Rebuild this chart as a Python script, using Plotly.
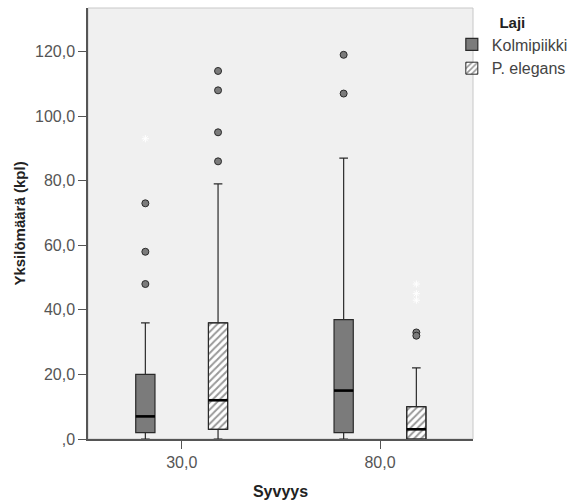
import numpy as np
import plotly.graph_objects as go

# ---------------- data ----------------
depths = ["30,0", "80,0"]
series_names = ["Kolmipiikki", "P. elegans"]

kolmi_q1 = [2, 2]
kolmi_median = [7, 15]
kolmi_q3 = [20, 37]
kolmi_low = [0, 0]
kolmi_high = [36, 87]
kolmi_outliers = [[73, 58, 48], [119, 107]]
kolmi_extremes = [[93], []]

eleg_q1 = [3, 0]
eleg_median = [12, 3]
eleg_q3 = [36, 10]
eleg_low = [0, 0]
eleg_high = [79, 22]
eleg_outliers = [[114, 108, 95, 86], [33, 32]]
eleg_extremes = [[], [48, 45, 43]]

y_ticks = [0, 20, 40, 60, 80, 100, 120]
y_tick_labels = [",0", "20,0", "40,0", "60,0", "80,0", "100,0", "120,0"]

# ---------------- style ----------------
FONT = "Liberation Sans, Arial, sans-serif"
GRAY = "#7b7b7b"
DARK = "#2a2a2a"
BOXW = 0.097
OFF = 0.1833

idx = np.arange(len(depths))
pos_k = idx - OFF
pos_e = idx + OFF

fig = go.Figure()

# hatched fill for P. elegans boxes (bar with pattern underneath the box outline)
fig.add_trace(go.Bar(
    x=pos_e, y=np.array(eleg_q3) - np.array(eleg_q1), base=eleg_q1, width=BOXW,
    name=series_names[1], legendrank=2,
    marker=dict(color="white",
                pattern=dict(shape="/", fgcolor="#333333", bgcolor="white", size=5, solidity=0.4),
                line=dict(width=1, color=DARK)),
    hoverinfo="skip",
))

# Kolmipiikki boxes
fig.add_trace(go.Box(
    x=pos_k, q1=kolmi_q1, median=kolmi_median, q3=kolmi_q3,
    lowerfence=kolmi_low, upperfence=kolmi_high,
    width=BOXW, whiskerwidth=0.45, boxpoints=False,
    fillcolor=GRAY, line=dict(color=DARK, width=1.2),
    name=series_names[0], legendrank=1,
))

# P. elegans box outlines
fig.add_trace(go.Box(
    x=pos_e, q1=eleg_q1, median=eleg_median, q3=eleg_q3,
    lowerfence=eleg_low, upperfence=eleg_high,
    width=BOXW, whiskerwidth=0.45, boxpoints=False,
    fillcolor="rgba(0,0,0,0)", line=dict(color=DARK, width=1.2),
    name=series_names[1], showlegend=False,
))

# thick median lines
def median_segments(pos, med):
    xs, ys = [], []
    for p, m in zip(pos, med):
        xs += [p - BOXW / 2, p + BOXW / 2, None]
        ys += [m, m, None]
    return xs, ys

for pos, med in [(pos_k, kolmi_median), (pos_e, eleg_median)]:
    xs, ys = median_segments(pos, med)
    fig.add_trace(go.Scatter(x=xs, y=ys, mode="lines", line=dict(color="black", width=2.6),
                             showlegend=False, hoverinfo="skip"))

# outliers
def points(pos, groups):
    xs, ys = [], []
    for p, g in zip(pos, groups):
        xs += [p] * len(g)
        ys += list(g)
    return xs, ys

for pos, groups in [(pos_k, kolmi_outliers), (pos_e, eleg_outliers)]:
    xs, ys = points(pos, groups)
    fig.add_trace(go.Scatter(x=xs, y=ys, mode="markers",
                             marker=dict(symbol="circle", size=7, color=GRAY,
                                         line=dict(color=DARK, width=1)),
                             showlegend=False))

for pos, groups in [(pos_k, kolmi_extremes), (pos_e, eleg_extremes)]:
    xs, ys = points(pos, groups)
    fig.add_trace(go.Scatter(x=xs, y=ys, mode="markers",
                             marker=dict(symbol="asterisk-open", size=6, color="white",
                                         line=dict(color="white", width=1)),
                             showlegend=False))

fig.update_layout(
    width=572, height=501,
    margin=dict(l=88, r=99, t=8, b=62, autoexpand=False),
    paper_bgcolor="white", plot_bgcolor="#f0f0f0",
    barmode="overlay", boxmode="overlay",
    font=dict(family=FONT, size=16, color="#555555"),
    showlegend=True,
    legend=dict(x=0.945, xanchor="left", y=1.0, yanchor="top",
                bgcolor="rgba(0,0,0,0)", itemwidth=30, tracegroupgap=0,
                font=dict(size=16, color="#444444"),
                title=dict(text="<b>Laji</b>", side="top center",
                           font=dict(size=15, color="#222222"))),
    xaxis=dict(range=[-0.4725, 1.469], tickvals=idx, ticktext=depths, automargin=False,
               showgrid=False, zeroline=False, showline=True, linecolor="#555555", linewidth=1.5,
               ticks="outside", ticklen=8, tickcolor="#555555", tickwidth=1.2,
               title=dict(text="<b>Syvyys</b>", font=dict(size=16, color="#222222"), standoff=16)),
    yaxis=dict(range=[0, 133.5], tickvals=y_ticks, ticktext=y_tick_labels, automargin=False,
               showgrid=False, zeroline=False, showline=True, linecolor="#555555", linewidth=1.5,
               ticks="outside", ticklen=8, tickcolor="#555555", tickwidth=1.2,
               title=dict(text="<b>Yksilömäärä (kpl)</b>", font=dict(size=15, color="#222222"),
                          standoff=6)),
    shapes=[dict(type="rect", xref="paper", yref="paper", x0=0, x1=1, y0=0, y1=1,
                 line=dict(color="#c8c8c8", width=1), layer="below")],
)

fig.write_html("out.html", config={"displayModeBar": False},
               post_script="document.body.style.margin='0';")
